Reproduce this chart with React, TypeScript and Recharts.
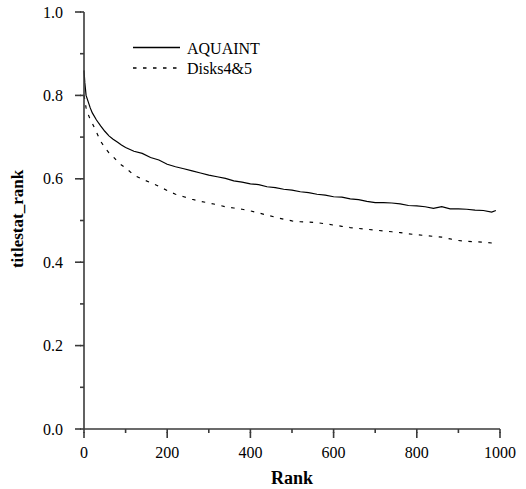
import React from 'react';
import { LineChart, Line, XAxis, YAxis, Customized } from 'recharts';

const ranks = [0, 2, 5, 10, 15, 20, 30, 40, 50, 60, 70, 80, 90, 100, 120, 140, 160, 180, 200, 220, 240, 260, 280, 300, 320, 340, 360, 380, 400, 420, 440, 460, 480, 500, 520, 540, 560, 580, 600, 620, 640, 660, 680, 700, 720, 740, 760, 780, 800, 820, 840, 860, 880, 900, 920, 940, 960, 980, 990];

const aquaint = [0.86, 0.83, 0.8, 0.785, 0.77, 0.758, 0.741, 0.727, 0.714, 0.703, 0.695, 0.688, 0.681, 0.675, 0.666, 0.661, 0.651, 0.645, 0.635, 0.629, 0.624, 0.619, 0.614, 0.609, 0.605, 0.601, 0.595, 0.592, 0.588, 0.586, 0.581, 0.579, 0.575, 0.573, 0.569, 0.567, 0.563, 0.561, 0.557, 0.556, 0.552, 0.55, 0.546, 0.543, 0.543, 0.542, 0.54, 0.536, 0.535, 0.533, 0.529, 0.533, 0.528, 0.528, 0.527, 0.525, 0.524, 0.52, 0.524];

const disks = [0.8, 0.79, 0.77, 0.755, 0.742, 0.733, 0.712, 0.69, 0.675, 0.662, 0.653, 0.642, 0.633, 0.626, 0.609, 0.599, 0.591, 0.582, 0.572, 0.563, 0.557, 0.551, 0.546, 0.542, 0.538, 0.533, 0.53, 0.527, 0.523, 0.518, 0.513, 0.508, 0.503, 0.499, 0.497, 0.496, 0.495, 0.492, 0.489, 0.486, 0.483, 0.481, 0.479, 0.477, 0.475, 0.473, 0.471, 0.468, 0.466, 0.464, 0.462, 0.46, 0.456, 0.452, 0.45, 0.449, 0.448, 0.446, 0.445];

const xTicks = [0, 100, 200, 300, 400, 500, 600, 700, 800, 900, 1000];
const xLabeled = [0, 200, 400, 600, 800, 1000];
const yTicks = [0, 0.1, 0.2, 0.3, 0.4, 0.5, 0.6, 0.7, 0.8, 0.9, 1.0];
const yLabeled = [0, 0.2, 0.4, 0.6, 0.8, 1.0];

const seriesNames = ['AQUAINT', 'Disks4&5'];
const xTitle = 'Rank';
const yTitle = 'titlestat_rank';

const data = ranks.map((r, i) => ({ rank: r, a: aquaint[i], d: disks[i] }));

const FONT = 'Liberation Serif, Times New Roman, serif';
const AXIS = '#3a3a3a';
const AXW = 1.6;
const DASH = '3.5 6.5';

const isMajor = (v: number, list: number[]) => list.some((t) => Math.abs(t - v) < 1e-6);

const XTick = (props: any) => {
  const x = Number(props.x);
  const y = Number(props.y);
  const major = isMajor(props.payload.value, xLabeled);
  return (
    <g>
      {major && <path d={`M${x},${y - 1}L${x},${y + 5}`} stroke={AXIS} strokeWidth={AXW} fill="none" />}
      {major && (
        <text x={x} y={y + 25} textAnchor="middle" fontFamily={FONT} fontSize={16} fill="#000">
          {String(props.payload.value)}
        </text>
      )}
    </g>
  );
};

const YTick = (props: any) => {
  const x = Number(props.x);
  const y = Number(props.y);
  const major = isMajor(props.payload.value, yLabeled);
  return (
    <g>
      {major && <path d={`M${x - 5},${y}L${x + 1},${y}`} stroke={AXIS} strokeWidth={AXW} fill="none" />}
      {major && (
        <text x={x - 17} y={y + 5.5} textAnchor="end" fontFamily={FONT} fontSize={16} fill="#000">
          {Number(props.payload.value).toFixed(1)}
        </text>
      )}
    </g>
  );
};

const Decor = () => (
  <g>
    <text x={292} y={484} textAnchor="middle" fontFamily={FONT} fontSize={18} fontWeight="bold" fill="#000">
      {xTitle}
    </text>
    <text
      x={0}
      y={0}
      transform="translate(23,219) rotate(-90)"
      textAnchor="middle"
      fontFamily={FONT}
      fontSize={17}
      fontWeight="bold"
      fill="#000"
    >
      {yTitle}
    </text>
    <line x1={133} x2={180} y1={47.5} y2={47.5} stroke="#000" strokeWidth={1.3} />
    <text x={187} y={53.5} fontFamily={FONT} fontSize={16} fill="#000">
      {seriesNames[0]}
    </text>
    <line x1={133} x2={180} y1={68} y2={68} stroke="#000" strokeWidth={1.3} strokeDasharray={DASH} />
    <text x={187} y={74} fontFamily={FONT} fontSize={16} fill="#000">
      {seriesNames[1]}
    </text>
  </g>
);

export default function App() {
  return (
    <div style={{ position: 'absolute', left: 0, top: 0, background: '#fff' }}>
      <LineChart width={526} height={489} data={data} margin={{ top: 12, right: 26, bottom: 0, left: 0 }}>
        <XAxis
          dataKey="rank"
          type="number"
          domain={[0, 1000]}
          ticks={xTicks}
          tickSize={4}
          tickMargin={0}
          tickLine={{ stroke: AXIS, strokeWidth: AXW }}
          axisLine={{ stroke: AXIS, strokeWidth: AXW }}
          tick={<XTick />}
          height={60}
          interval={0}
        />
        <YAxis
          type="number"
          domain={[0, 1]}
          ticks={yTicks}
          tickSize={4}
          tickMargin={0}
          tickLine={{ stroke: AXIS, strokeWidth: AXW }}
          axisLine={{ stroke: AXIS, strokeWidth: AXW }}
          tick={<YTick />}
          width={84}
          interval={0}
        />
        <Line dataKey="a" stroke="#000" strokeWidth={1.2} dot={false} isAnimationActive={false} type="linear" />
        <Line dataKey="d" stroke="#000" strokeWidth={1.2} dot={false} isAnimationActive={false} type="linear" strokeDasharray={DASH} />
        <Customized component={Decor} />
      </LineChart>
    </div>
  );
}
